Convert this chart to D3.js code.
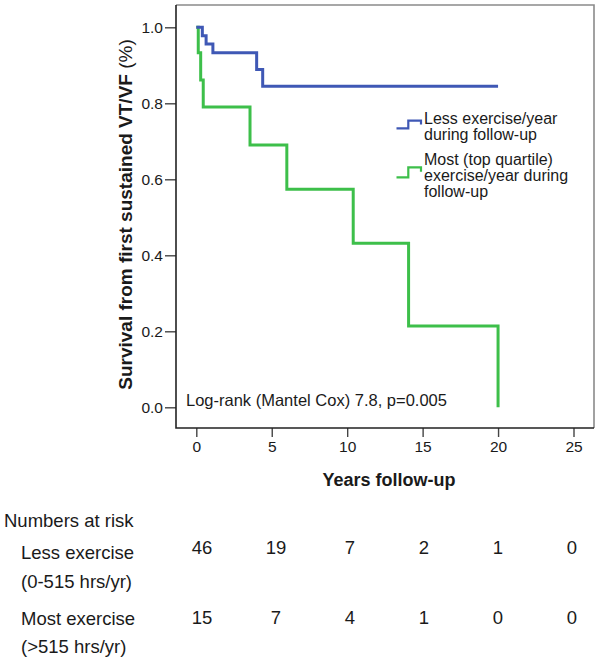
<!DOCTYPE html>
<html><head><meta charset="utf-8">
<script src="https://cdn.jsdelivr.net/npm/d3@7/dist/d3.min.js"></script>
<style>body{margin:0;background:#fff}svg{display:block}text{font-family:"Liberation Sans",Arial,sans-serif;fill:#1a1a1a}</style>
</head><body>
<svg id="c" width="602" height="660"></svg>
<script>
// ---- data ----
const lessTimes = [0, 0.4, 0.65, 1.1, 4.0, 4.4, 20];
const lessSurv  = [1, 0.978, 0.956, 0.933, 0.889, 0.845, 0.845];
const mostTimes = [0, 0.13, 0.29, 0.46, 3.56, 6.0, 10.4, 14.07, 20.0];
const mostSurv  = [1, 0.933, 0.861, 0.79, 0.69, 0.574, 0.432, 0.214, 0];
const xTicks = [0, 5, 10, 15, 20, 25];
const yTicks = [0, 0.2, 0.4, 0.6, 0.8, 1.0];
const riskTimes = [0, 5, 10, 15, 20, 25];
const riskLess = [46, 19, 7, 2, 1, 0];
const riskMost = [15, 7, 4, 1, 0, 0];
const legendLess = ["Less exercise/year", "during follow-up"];
const legendMost = ["Most (top quartile)", "exercise/year during", "follow-up"];
const rowLess = ["Less exercise", "(0-515 hrs/yr)"];
const rowMost = ["Most exercise", "(>515 hrs/yr)"];

const blue = "#3f58b5", green = "#3dbf4a";
const svg = d3.select("#c");
const frame = {l: 176, r: 594, t: 5, b: 428};
const x = d3.scaleLinear().domain([0, 25]).range([196.3, 573.5]);
const y = d3.scaleLinear().domain([0, 1]).range([407.3, 27.3]);

// frame top/right (grey)
svg.append("path").attr("d", `M${frame.l},${frame.t}H${frame.r}V${frame.b}`)
  .attr("fill", "none").attr("stroke", "#8a8a8a").attr("stroke-width", 1.6);

// axes
const xAxis = svg.append("g").attr("transform", `translate(0,${frame.b})`)
  .call(d3.axisBottom(x).tickValues(xTicks).tickSize(9).tickPadding(4).tickFormat(d3.format("d")));
const yAxis = svg.append("g").attr("transform", `translate(${frame.l},0)`)
  .call(d3.axisLeft(y).tickValues(yTicks).tickSize(11).tickPadding(2).tickFormat(d3.format(".1f")));
[xAxis, yAxis].forEach(g => {
  g.select(".domain").remove();
  g.selectAll(".tick line").attr("stroke", "#444").attr("stroke-width", 1.4);
  g.selectAll(".tick text").attr("font-size", 15.5).attr("fill", "#222")
    .style("font-family", '"Liberation Sans",Arial,sans-serif');
});
svg.append("path").attr("d", `M${frame.l},${frame.t}V${frame.b}H${frame.r}`)
  .attr("fill", "none").attr("stroke", "#222").attr("stroke-width", 1.6);

// curves
const line = d3.line().x(d => x(d[0])).y(d => y(d[1])).curve(d3.curveStepAfter);
svg.append("path").datum(d3.zip(mostTimes, mostSurv)).attr("d", line)
  .attr("fill", "none").attr("stroke", green).attr("stroke-width", 3);
svg.append("path").datum(d3.zip(lessTimes, lessSurv)).attr("d", line)
  .attr("fill", "none").attr("stroke", blue).attr("stroke-width", 3);

// legend
function legendSym(yLow, yHigh, yEnd, color) {
  svg.append("path").attr("d", `M396.5,${yLow}H408.3V${yHigh}H421V${yEnd}`)
    .attr("fill", "none").attr("stroke", color).attr("stroke-width", 2.2);
}
legendSym(128.3, 120.7, 124.5, blue);
legendSym(177.3, 167.3, 171.7, green);
// multi-line label as one text element
function block(lst, x0, y0, dy, fs) {
  const t = svg.append("text").attr("font-size", fs).attr("dominant-baseline", "central");
  lst.forEach((s, i) => t.append("tspan").attr("x", x0).attr("y", y0 + i * dy).text(s));
}
block(legendLess, 424, 117.5, 16.5, 16);
block(legendMost, 424, 158.5, 16.3, 16);

// log-rank
svg.append("text").attr("x", 186).attr("y", 400).attr("font-size", 16.5)
  .attr("dominant-baseline", "central").text("Log-rank (Mantel Cox) 7.8, p=0.005");

// axis titles
svg.append("text").attr("x", 389).attr("y", 480).attr("font-size", 18).attr("font-weight", "bold")
  .attr("text-anchor", "middle").attr("dominant-baseline", "central").text("Years follow-up");
const yt = svg.append("text").attr("transform", "translate(125,214.5) rotate(-90)")
  .attr("font-size", 19).attr("text-anchor", "middle").attr("dominant-baseline", "central");
yt.append("tspan").attr("font-weight", "bold").text("Survival from first sustained VT/VF ");
yt.append("tspan").text("(%)");

// numbers at risk
const rx = d3.scaleLinear().domain([0, 25]).range([202, 572]);
svg.append("text").attr("x", 4).attr("y", 520).attr("font-size", 18.5)
  .attr("dominant-baseline", "central").text("Numbers at risk");
block(rowLess, 21, 551.5, 29, 18.5);
block(rowMost, 21, 618, 28, 18.5);
svg.selectAll(".rl").data(riskLess).join("text").attr("class", "rl")
  .attr("x", (d, i) => rx(riskTimes[i])).attr("y", 547.5).attr("font-size", 18.5)
  .attr("text-anchor", "middle").attr("dominant-baseline", "central").text(d => d);
svg.selectAll(".rm").data(riskMost).join("text").attr("class", "rm")
  .attr("x", (d, i) => rx(riskTimes[i])).attr("y", 617.5).attr("font-size", 18.5)
  .attr("text-anchor", "middle").attr("dominant-baseline", "central").text(d => d);
</script>
</body></html>
